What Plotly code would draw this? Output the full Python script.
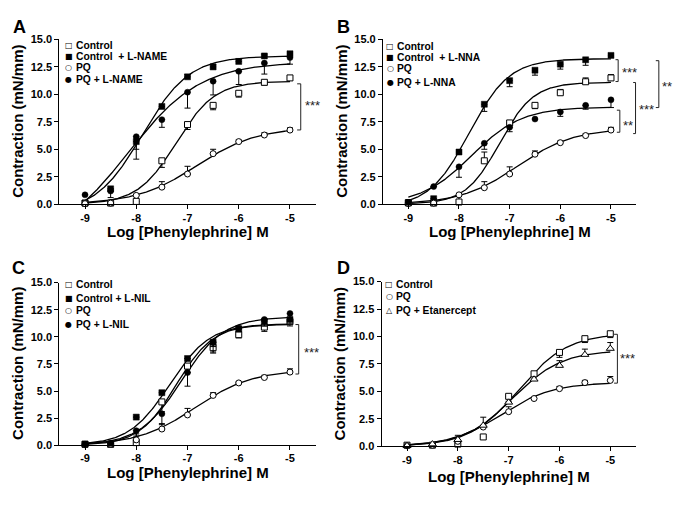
import numpy as np
import plotly.graph_objects as go

W, H = 683, 505

# ---------------- data ----------------
doses = [-9, -8.5, -8, -7.5, -7, -6.5, -6, -5.5, -5]
x_tickvals = [-9, -8, -7, -6, -5]
x_ticktext = ["-9", "-8", "-7", "-6", "-5"]
y_tickvals = [0, 2.5, 5, 7.5, 10, 12.5, 15]
y_ticktext = ["0.0", "2.5", "5.0", "7.5", "10.0", "12.5", "15.0"]

# Panel A (errors: + drawn up, - drawn down); fits: (bottom, top, logEC50, hill)
A_control = [0.1, 0.1, 0.25, 3.95, 7.25, 9.0, 10.1, 11.1, 11.5]
A_control_err = [0, 0, 0, -0.6, -0.45, -0.4, -0.35, -0.25, -0.2]
A_control_fit = (0, 11.2, -7.22, 1.15)
A_lname = [0.1, 1.4, 5.7, 8.9, 11.6, 12.5, 13.0, 13.5, 13.7]
A_lname_err = [0, 0, -0.7, 0, 0.2, 0.25, 0.2, 0.15, 0.15]
A_lname_fit = (-0.8, 13.5, -7.88, 0.95)
A_pq = [0.05, 0.1, 0.8, 1.55, 2.75, 4.6, 5.7, 6.3, 6.75]
A_pq_err = [0, 0, 0, 0.5, 0.7, 0.4, 0.15, 0.2, 0.2]
A_pq_fit = (0, 7.0, -6.82, 0.74)
A_pq_lname = [0.85, 1.2, 6.15, 7.7, 10.2, 11.2, 12.1, 12.85, 13.35]
A_pq_lname_err = [0, -0.6, -2.05, -0.7, -1.45, -1.25, -1.2, -1.0, -0.6]
A_pq_lname_fit = (-3.5, 12.95, -8.15, 0.62)

# Panel B
B_control = [0.15, 0.1, 0.2, 3.95, 7.4, 9.0, 10.15, 11.15, 11.5]
B_control_err = [0, 0, 0.7, 0.8, 0, -0.3, 0.3, 0.35, 0.3]
B_control_fit = (0, 11.1, -7.2, 1.3)
B_lnna = [0.1, 0.5, 4.75, 9.1, 11.25, 12.2, 12.75, 13.15, 13.55]
B_lnna_err = [0, 0, 0, -0.65, -0.55, -0.45, -0.45, -0.5, 0]
B_lnna_fit = (-0.3, 13.25, -7.8, 1.1)
B_pq = [0.05, 0.1, 0.85, 1.5, 2.75, 4.55, 5.6, 6.25, 6.75]
B_pq_err = [0, 0, 0, 0.55, 0.65, 0.3, 0.15, 0.15, 0.25]
B_pq_fit = (0, 6.9, -6.85, 0.78)
B_pq_lnna = [0.15, 1.6, 3.4, 5.55, 7.0, 7.75, 8.4, 9.0, 9.5]
B_pq_lnna_err = [0, 0, -0.95, -0.55, -0.4, 0, -0.4, -0.35, -0.7]
B_pq_lnna_fit = (0, 8.85, -7.75, 0.88)

# Panel C
C_control = [0.1, 0.1, 0.25, 4.0, 7.3, 9.0, 10.2, 10.9, 11.4]
C_control_err = [0, 0, 0.8, -0.9, -0.6, -0.5, -0.3, -0.4, -0.4]
C_control_fit = (0, 11.15, -7.22, 1.2)
C_lnil = [0.1, 0.1, 2.6, 4.85, 8.0, 9.5, 10.75, 11.4, 11.6]
C_lnil_err = [0, 0, 0, 0, 0, -0.4, -0.3, -0.4, -0.4]
C_lnil_fit = (0, 11.2, -7.35, 1.1)
C_pq = [0.05, 0.1, 0.5, 1.5, 2.8, 4.6, 5.75, 6.25, 6.75]
C_pq_err = [0, 0, 0, 0.5, 0.6, 0.25, 0.1, 0.2, 0.3]
C_pq_fit = (0, 6.95, -6.85, 0.78)
C_pq_lnil = [0.1, 0.2, 1.35, 2.9, 6.7, 9.5, 10.8, 11.6, 12.15]
C_pq_lnil_err = [0, 0, -0.5, -1.0, -1.25, -0.9, -0.3, -0.6, -0.4]
C_pq_lnil_fit = (0, 11.85, -7.12, 1.05)

# Panel D
D_control = [0.1, 0.1, 0.2, 0.85, 4.55, 6.6, 8.55, 9.8, 10.25]
D_control_err = [0, 0, 0, 0, -0.45, 0, -0.45, -0.35, -0.35]
D_control_fit = (0, 10.3, -6.8, 0.9)
D_pq = [0.05, 0.1, 0.45, 1.75, 3.15, 4.35, 5.25, 5.8, 6.0]
D_pq_err = [0, 0, 0, 0, 0.45, 0, 0.2, 0.2, 0.35]
D_pq_fit = (0, 5.8, -7.14, 0.87)
D_pq_et = [0.05, 0.2, 0.6, 1.9, 4.0, 6.1, 7.35, 8.35, 8.9]
D_pq_et_err = [0, 0, 0.4, 0.75, 0, 0, 0.45, 0.5, 0.55]
D_pq_et_fit = (0, 8.75, -6.92, 0.9)

# significance brackets: (x of vertical, x of tick ends, top, bottom) and labels (x, y, text)
A_brackets = [(-4.79, -4.86, 10.96, 6.76)]
A_stars = [(-4.56, 9.24, "***")]
B_brackets = [(-4.858, -4.91, 13.16, 11.17), (-4.825, -4.884, 8.56, 6.55),
              (-4.515, -4.562, 11.08, 6.43), (-4.055, -4.115, 13.07, 8.8)]
B_stars = [(-4.637, 12.27, "***"), (-4.667, 7.47, "**"),
           (-4.302, 8.92, "***"), (-3.888, 11.0, "**")]
C_brackets = [(-4.83, -4.893, 11.13, 6.57)]
C_stars = [(-4.571, 8.82, "***")]
D_brackets = [(-4.86, -4.925, 10.2, 5.75)]
D_stars = [(-4.669, 8.27, "***")]

# ---------------- layout geometry (pixels) ----------------
XR = [-9.5, -4.5]
YR = [0, 15]
geom = {
    "A": dict(ax="", xpx=(59.4, 315.6), ypx=(34.3, 203.0), standoff=0),
    "B": dict(ax="2", xpx=(383.0, 636.3), ypx=(34.3, 203.0), standoff=0),
    "C": dict(ax="3", xpx=(59.4, 315.6), ypx=(283.3, 450.0), standoff=-1),
    "D": dict(ax="4", xpx=(381.6, 635.7), ypx=(282.3, 451.0), standoff=0),
}

FONT = "Liberation Sans, Arial, sans-serif"
GLYPH_FONT = "DejaVu Sans"

styles = {
    "sq_open": (dict(symbol="square", size=6, color="white", line=dict(color="black", width=1)), "\u25a1"),
    "sq_fill": (dict(symbol="square", size=6, color="black", line=dict(color="black", width=0.5)), "\u25a0"),
    "ci_open": (dict(symbol="circle", size=6, color="white", line=dict(color="black", width=1)), "\u25cb"),
    "ci_fill": (dict(symbol="circle", size=6, color="black", line=dict(color="black", width=0.5)), "\u25cf"),
    "tri_open": (dict(symbol="triangle-up", size=7, color="white", line=dict(color="black", width=1)), "\u25b3"),
}

panels = {
    "A": dict(series=[
        ("Control", A_control, A_control_err, A_control_fit, "sq_open"),
        ("Control\u00a0\u00a0+ L-NAME", A_lname, A_lname_err, A_lname_fit, "sq_fill"),
        ("PQ", A_pq, A_pq_err, A_pq_fit, "ci_open"),
        ("PQ + L-NAME", A_pq_lname, A_pq_lname_err, A_pq_lname_fit, "ci_fill"),
    ], legend=dict(mx=68.5, tx=73.5, rows=[40, 51.8, 63.3, 75]),
        brackets=A_brackets, stars=A_stars, letter=(19, 21.5), ytitle_x=18, xtitle_y=231.5),
    "B": dict(series=[
        ("Control", B_control, B_control_err, B_control_fit, "sq_open"),
        ("Control\u00a0\u00a0+ L-NNA", B_lnna, B_lnna_err, B_lnna_fit, "sq_fill"),
        ("PQ", B_pq, B_pq_err, B_pq_fit, "ci_open"),
        ("PQ + L-NNA", B_pq_lnna, B_pq_lnna_err, B_pq_lnna_fit, "ci_fill"),
    ], legend=dict(mx=390, tx=395.5, rows=[41, 52.6, 64.2, 78.5]),
        brackets=B_brackets, stars=B_stars, letter=(343, 21.5), ytitle_x=342, xtitle_y=231.5),
    "C": dict(series=[
        ("Control", C_control, C_control_err, C_control_fit, "sq_open"),
        ("Control + L-NIL", C_lnil, C_lnil_err, C_lnil_fit, "sq_fill"),
        ("PQ", C_pq, C_pq_err, C_pq_fit, "ci_open"),
        ("PQ + L-NIL", C_pq_lnil, C_pq_lnil_err, C_pq_lnil_fit, "ci_fill"),
    ], legend=dict(mx=68.5, tx=73.5, rows=[285.5, 299.5, 312, 326.5]),
        brackets=C_brackets, stars=C_stars, letter=(18, 268.5), ytitle_x=18, xtitle_y=478),
    "D": dict(series=[
        ("Control", D_control, D_control_err, D_control_fit, "sq_open"),
        ("PQ", D_pq, D_pq_err, D_pq_fit, "ci_open"),
        ("PQ + Etanercept", D_pq_et, D_pq_et_err, D_pq_et_fit, "tri_open"),
    ], legend=dict(mx=389, tx=394, rows=[285, 298, 311.5]),
        brackets=D_brackets, stars=D_stars, letter=(343, 268), ytitle_x=339.5, xtitle_y=481.5),
}


def hill(xs, p):
    b, t, ec, h = p
    return b + (t - b) / (1.0 + 10 ** ((ec - xs) * h))


def pxx(g, xd):
    x0, x1 = g["xpx"]
    return x0 + (xd - XR[0]) / (XR[1] - XR[0]) * (x1 - x0)


def pxy(g, yd):
    yt, yb = g["ypx"]
    return yb - (yd - YR[0]) / (YR[1] - YR[0]) * (yb - yt)


def PX(px):
    return px / W


def PY(py):
    return 1 - py / H


fig = go.Figure()
annotations = []
shapes = []
xfit = np.linspace(-9, -5, 300)

for key, P in panels.items():
    g = geom[key]
    xa = "x" + g["ax"]
    ya = "y" + g["ax"]
    for name, vals, err, fit, st in P["series"]:
        fig.add_trace(go.Scatter(x=xfit, y=hill(xfit, fit), mode="lines",
                                 line=dict(color="black", width=1.3),
                                 xaxis=xa, yaxis=ya, showlegend=False, hoverinfo="skip"))
    for name, vals, err, fit, st in P["series"]:
        up = [e if e > 0 else 0 for e in err]
        dn = [-e if e < 0 else 0 for e in err]
        fig.add_trace(go.Scatter(x=doses, y=vals, mode="markers", marker=styles[st][0],
                                 error_y=dict(type="data", symmetric=False, array=up, arrayminus=dn,
                                              color="black", thickness=1, width=3),
                                 xaxis=xa, yaxis=ya, showlegend=False, cliponaxis=False, name=name))
    L = P["legend"]
    for (name, vals, err, fit, st), ry in zip(P["series"], L["rows"]):
        annotations.append(dict(x=PX(L["mx"]), y=PY(ry), xref="paper", yref="paper",
                                text=styles[st][1], showarrow=False, xanchor="center", yanchor="middle",
                                font=dict(family=GLYPH_FONT, size=8, color="black")))
        annotations.append(dict(x=PX(L["tx"]), y=PY(ry), xref="paper", yref="paper",
                                text=name, showarrow=False, xanchor="left", yanchor="middle",
                                font=dict(family=FONT, size=10.3, color="black", weight="bold")))
    for vx, tx, top, bot in P["brackets"]:
        X1, X0 = PX(pxx(g, vx)), PX(pxx(g, tx))
        Yt, Yb = PY(pxy(g, top)), PY(pxy(g, bot))
        shapes.append(dict(type="path", xref="paper", yref="paper",
                           path=f"M {X0} {Yt} L {X1} {Yt} L {X1} {Yb} L {X0} {Yb}",
                           line=dict(color="#222", width=1)))
    for sx, sy, txt in P["stars"]:
        annotations.append(dict(x=PX(pxx(g, sx)), y=PY(pxy(g, sy)), xref="paper", yref="paper",
                                text=txt, showarrow=False, xanchor="center", yanchor="middle", yshift=-3,
                                font=dict(family=FONT, size=13, color="#222")))
    lx, ly = P["letter"]
    annotations.append(dict(x=PX(lx), y=PY(ly), xref="paper", yref="paper", text=key, showarrow=False,
                            xanchor="center", yanchor="middle",
                            font=dict(family=FONT, size=18, color="black", weight="bold")))
    yc = (g["ypx"][0] + g["ypx"][1]) / 2
    xc = (g["xpx"][0] + g["xpx"][1]) / 2
    annotations.append(dict(x=PX(P["ytitle_x"]), y=PY(yc), xref="paper", yref="paper",
                            text="Contraction (mN/mm)", textangle=-90, showarrow=False,
                            xanchor="center", yanchor="middle",
                            font=dict(family=FONT, size=15, color="black", weight="bold")))
    annotations.append(dict(x=PX(xc), y=PY(P["xtitle_y"]), xref="paper", yref="paper",
                            text="Log [Phenylephrine] M", showarrow=False,
                            xanchor="center", yanchor="middle",
                            font=dict(family=FONT, size=15, color="black", weight="bold")))

layout = dict(width=W, height=H, autosize=False, margin=dict(l=0, r=0, t=0, b=0),
              paper_bgcolor="white", plot_bgcolor="white", showlegend=False,
              annotations=annotations, shapes=shapes)

tickfont = dict(family=FONT, size=11, color="black", weight="bold")
for key, P in panels.items():
    g = geom[key]
    n = g["ax"]
    layout["xaxis" + n] = dict(domain=[PX(g["xpx"][0]), PX(g["xpx"][1])], range=XR,
                               anchor="y" + n, showgrid=False, zeroline=False, showline=True,
                               linecolor="black", linewidth=1.2, ticks="outside", ticklen=3.5,
                               tickwidth=1.2, tickcolor="black", tickvals=x_tickvals,
                               ticktext=x_ticktext, tickfont=tickfont, fixedrange=True,
                               ticklabelstandoff=g["standoff"])
    layout["yaxis" + n] = dict(domain=[PY(g["ypx"][1]), PY(g["ypx"][0])], range=YR,
                               anchor="x" + n, showgrid=False, zeroline=False, showline=True,
                               linecolor="black", linewidth=1.2, ticks="outside", ticklen=4,
                               tickwidth=1.2, tickcolor="black", tickvals=y_tickvals,
                               ticktext=y_ticktext, tickfont=tickfont, fixedrange=True)

fig.update_layout(**layout)
fig.write_html("out.html", config={"displayModeBar": False},
               post_script="document.body.style.margin='0';document.body.style.padding='0';"
                           "document.documentElement.style.overflow='hidden';")
